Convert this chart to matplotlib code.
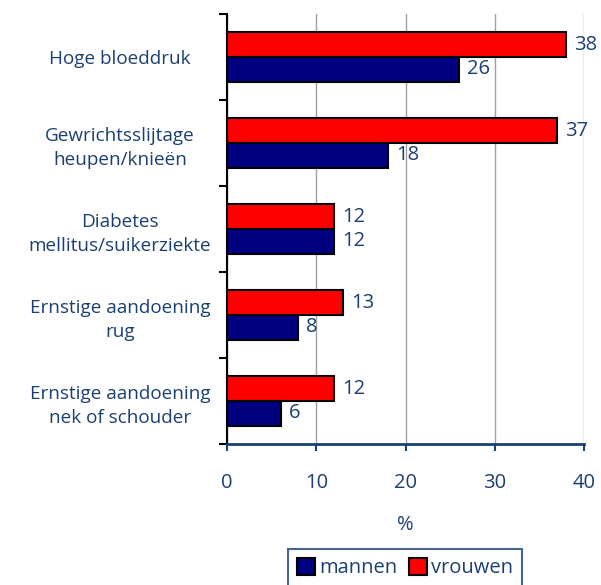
import numpy as np
import matplotlib
matplotlib.use("Agg")
import matplotlib.pyplot as plt
from matplotlib.patches import Patch

# Data
categories = ["Hoge bloeddruk", "Gewrichtsslijtage\nheupen/knieën",
              "Diabetes\nmellitus/suikerziekte", "Ernstige aandoening\nrug",
              "Ernstige aandoening\nnek of schouder"]
mannen = [26, 18, 12, 8, 6]
vrouwen = [38, 37, 12, 13, 12]

txt = "#1b3f73"
plt.rcParams['font.family'] = ['Open Sans', 'DejaVu Sans']

fig = plt.figure(figsize=(6.01, 5.85), dpi=100)
ax = fig.add_axes([227/601, 1 - 444/585, (584-227)/601, (444-14)/585])

n = len(categories)
y = n - 0.5 - np.arange(n)   # top to bottom
h = 0.285
ax.barh(y + h/2, vrouwen, height=h, color="#ff0000", edgecolor="black", lw=1.5, label="vrouwen", zorder=3)
ax.barh(y - h/2, mannen, height=h, color="#000080", edgecolor="black", lw=1.5, label="mannen", zorder=3)

for yi, v in zip(y, vrouwen):
    ax.text(v + 0.9, yi + h/2, str(v), va="center", ha="left", fontsize=14.5, color=txt)
for yi, v in zip(y, mannen):
    ax.text(v + 0.9, yi - h/2, str(v), va="center", ha="left", fontsize=14.5, color=txt)

ax.set_xlim(0, 40)
ax.set_ylim(0, n)
ax.set_xticks([0, 10, 20, 30, 40])
ax.xaxis.grid(True, color="#a0a0a0", lw=1, zorder=0)
ax.tick_params(axis="x", colors=txt, labelsize=14.5, length=5, width=1.5, pad=16)

ax.set_yticks(np.arange(n + 1))
ax.set_yticklabels([])
ax.set_yticks(y, minor=True)
ax.set_yticklabels(categories, minor=True, fontsize=13.6, color=txt, ha="center",
                   linespacing=1.45)
ax.tick_params(axis="y", which="major", length=6, width=1.5, color="black", direction="out")
ax.tick_params(axis="y", which="minor", length=0, pad=77)

for s in ["top", "right"]:
    ax.spines[s].set_visible(False)
ax.spines["left"].set_linewidth(1.5)
ax.spines["left"].set_color("black")
ax.spines["bottom"].set_linewidth(2)
ax.spines["bottom"].set_color(txt)
ax.spines["bottom"].set_zorder(4)

ax.set_xlabel("%", fontsize=14.5, color=txt, labelpad=16)

handles = [Patch(facecolor="#000080", edgecolor="black", lw=1.5, label="mannen"),
           Patch(facecolor="#ff0000", edgecolor="black", lw=1.5, label="vrouwen")]
leg = fig.legend(handles=handles, loc="center", bbox_to_anchor=(405/601, 1 - 568/585),
                 ncol=2, fontsize=14.5, frameon=True, fancybox=False,
                 handlelength=0.9, handleheight=0.9, handletextpad=0.2, columnspacing=0.6,
                 borderpad=0.45)
leg.get_frame().set_edgecolor(txt)
leg.get_frame().set_linewidth(1.5)
for t in leg.get_texts():
    t.set_color(txt)

fig.savefig("out.png", dpi=100)
